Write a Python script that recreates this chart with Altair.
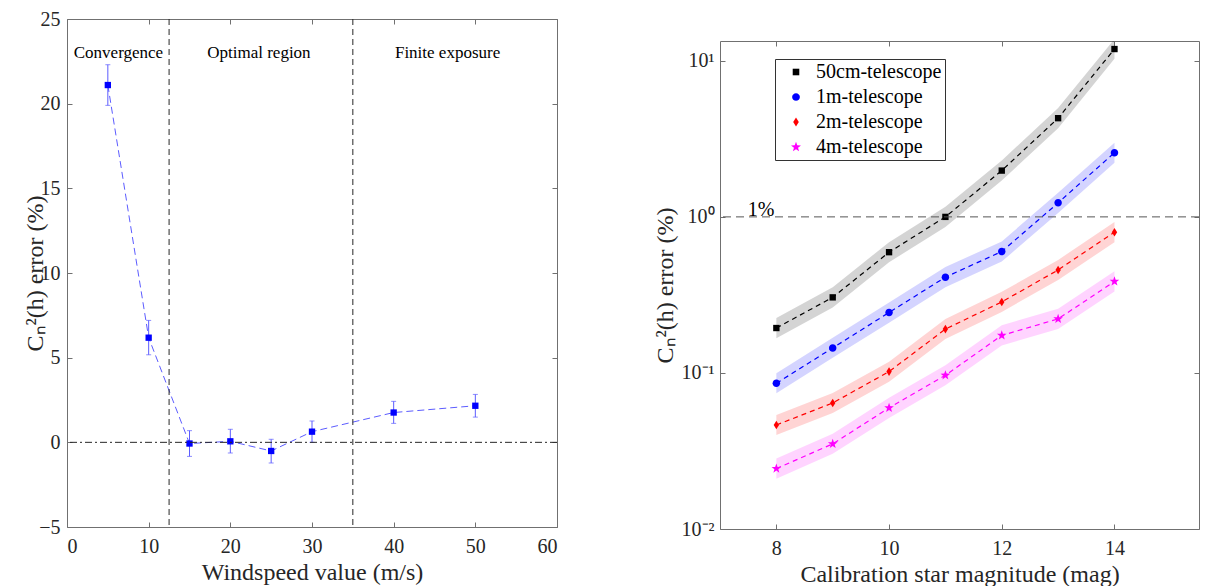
import math
import altair as alt
import pandas as pd

# ---------------- left panel data ----------------
wind_speed = [5, 10, 15, 20, 25, 30, 40, 50]
wind_error = [21.1, 6.18, -0.07, 0.06, -0.51, 0.63, 1.76, 2.16]
wind_error_lo = [19.9, 5.17, -0.83, -0.63, -1.22, 0.0, 1.12, 1.49]
wind_error_hi = [22.3, 7.2, 0.69, 0.77, 0.18, 1.26, 2.42, 2.83]
region_edges = [12.5, 35]
region_labels = ["Convergence", "Optimal region", "Finite exposure"]
region_label_x = [6.3, 23.5, 46.6]
region_label_y = [23.0, 23.0, 23.0]
zero_level = [0]
left_xticks = [0, 10, 20, 30, 40, 50, 60]
left_yticks = [-5, 0, 5, 10, 15, 20, 25]

# ---------------- right panel data ----------------
magnitudes = [8, 9, 10, 11, 12, 13, 14]
telescopes = ["50cm-telescope", "1m-telescope", "2m-telescope", "4m-telescope"]
telescope_colors = ["#000000", "#0000ff", "#ff0000", "#ff00ff"]
err_50cm = [0.194, 0.305, 0.594, 1.0, 1.98, 4.29, 11.9]
err_50cm_lo = [0.167, 0.263, 0.512, 0.862, 1.71, 3.70, 10.3]
err_50cm_hi = [0.225, 0.354, 0.689, 1.16, 2.30, 4.98, 13.8]
err_1m = [0.0858, 0.1446, 0.244, 0.411, 0.600, 1.23, 2.58]
err_1m_lo = [0.0740, 0.125, 0.210, 0.354, 0.517, 1.06, 2.22]
err_1m_hi = [0.0995, 0.168, 0.283, 0.477, 0.696, 1.43, 2.99]
err_2m = [0.0464, 0.0642, 0.102, 0.191, 0.285, 0.457, 0.798]
err_2m_lo = [0.0400, 0.0553, 0.0879, 0.165, 0.246, 0.394, 0.688]
err_2m_hi = [0.0538, 0.0745, 0.118, 0.222, 0.331, 0.530, 0.926]
err_4m = [0.0244, 0.0351, 0.0597, 0.0966, 0.174, 0.222, 0.386]
err_4m_lo = [0.0210, 0.0303, 0.0515, 0.0833, 0.150, 0.191, 0.333]
err_4m_hi = [0.0283, 0.0407, 0.0693, 0.112, 0.202, 0.258, 0.448]
one_pct_level = [1.0]
one_pct_text = ["1%"]
one_pct_x = [7.73]
right_xticks = [8, 10, 12, 14]
right_y_range = [0.01, 13.4]
right_ytick_exponents = [-2, -1, 0, 1]
right_ytick_labels = ["10\u207b\u00b2", "10\u207b\u00b9", "10\u2070", "10\u00b9"]

# ---------------- styling ----------------
FONT = "Liberation Serif"
TXT = "#262626"
FRAME = "#707070"
BLUE_LINE = "#5c5cff"


def star_path(R, r):
    pts = []
    for i in range(10):
        a = -math.pi / 2 + i * math.pi / 5
        rad = R if i % 2 == 0 else r
        pts.append(f"{rad * math.cos(a):.3f},{rad * math.sin(a):.3f}")
    return "M" + "L".join(pts) + "Z"


marker_paths = [
    "M-0.85,-0.85H0.85V0.85H-0.85Z",
    "M-1,0A1,1 0 1,0 1,0A1,1 0 1,0 -1,0Z",
    "M0,-1.15L0.72,0L0,1.15L-0.72,0Z",
    star_path(1.35, 0.55),
]

AXIS_STYLE = dict(labelFont=FONT, labelFontSize=20, labelColor=TXT, titleFont=FONT,
                  titleFontSize=24, titleFontWeight="normal", titleColor=TXT,
                  tickColor=FRAME, tickWidth=1, offset=-5, tickSize=5, domain=False, grid=False)


def axis(orient, values, title=None, labels=True, **kw):
    return alt.Axis(orient=orient, values=values, labels=labels, title=title, **AXIS_STYLE, **kw)


# ---------------- left panel ----------------
df_w = pd.DataFrame({"speed": wind_speed, "err": wind_error,
                     "lo": wind_error_lo, "hi": wind_error_hi})
df_edges = pd.DataFrame({"edge": region_edges})
df_zero = pd.DataFrame({"zero": zero_level})
df_regions = pd.DataFrame({"x": region_label_x, "y": region_label_y,
                           "label": region_labels})

lx = alt.Scale(domain=[0, 60], nice=False)
ly = alt.Scale(domain=[-5, 25], nice=False)

l_line = alt.Chart(df_w).mark_line(color=BLUE_LINE, strokeDash=[7, 4], strokeWidth=1).encode(
    x=alt.X("speed:Q", scale=lx,
            axis=axis("bottom", left_xticks, "Windspeed value (m/s)", labelPadding=9, titlePadding=4)),
    y=alt.Y("err:Q", scale=ly,
            axis=axis("left", left_yticks, "C\u2099\u00b2(h) error (%)", labelPadding=7, titlePadding=-9)),
)
l_err = alt.Chart(df_w).mark_rule(color=BLUE_LINE, strokeWidth=1).encode(
    x=alt.X("speed:Q", scale=lx, axis=None),
    y=alt.Y("lo:Q", scale=ly, axis=None),
    y2="hi:Q",
)
l_cap_lo = alt.Chart(df_w).mark_tick(color=BLUE_LINE, orient="horizontal", size=5, thickness=1).encode(
    x=alt.X("speed:Q", scale=lx, axis=None),
    y=alt.Y("lo:Q", scale=ly, axis=None),
)
l_cap_hi = alt.Chart(df_w).mark_tick(color=BLUE_LINE, orient="horizontal", size=5, thickness=1).encode(
    x=alt.X("speed:Q", scale=lx, axis=None),
    y=alt.Y("hi:Q", scale=ly, axis=None),
)
l_pts = alt.Chart(df_w).mark_square(color="#0000ff", size=40, opacity=1).encode(
    x=alt.X("speed:Q", scale=lx, axis=None),
    y=alt.Y("err:Q", scale=ly, axis=None),
)
l_vrules = alt.Chart(df_edges).mark_rule(color=TXT, strokeDash=[6, 4], strokeWidth=1).encode(
    x=alt.X("edge:Q", scale=lx, axis=axis("top", left_xticks, labels=False)),
)
l_zero = alt.Chart(df_zero).mark_rule(color=TXT, strokeDash=[7, 3, 2, 3], strokeWidth=1).encode(
    y=alt.Y("zero:Q", scale=ly, axis=axis("right", left_yticks, labels=False)),
)
l_text = alt.Chart(df_regions).mark_text(font=FONT, fontSize=17, color="black",
                                         align="center", baseline="middle").encode(
    x=alt.X("x:Q", scale=lx, axis=None),
    y=alt.Y("y:Q", scale=ly, axis=None),
    text="label:N",
)

left = alt.layer(l_line, l_err, l_cap_lo, l_cap_hi, l_pts, l_vrules, l_zero, l_text).properties(
    width=490, height=508)

# ---------------- right panel (log10 values on a linear scale) ----------------
rows = []
for name, v, lo, hi in zip(
    telescopes,
    [err_50cm, err_1m, err_2m, err_4m],
    [err_50cm_lo, err_1m_lo, err_2m_lo, err_4m_lo],
    [err_50cm_hi, err_1m_hi, err_2m_hi, err_4m_hi],
):
    for m, a, b, c in zip(magnitudes, v, lo, hi):
        rows.append({"mag": m, "series": name, "err": a, "lo": b, "hi": c})
df_t = pd.DataFrame(rows)
df_pct = pd.DataFrame({"level": one_pct_level, "x": one_pct_x, "label": one_pct_text})

rx = alt.Scale(domain=[7, 15.5], nice=False)
ry = alt.Scale(domain=[math.log10(right_y_range[0]), math.log10(right_y_range[1])], nice=False)
cscale = alt.Scale(domain=telescopes, range=telescope_colors)
sscale = alt.Scale(domain=telescopes, range=marker_paths)

label_expr = ""
for e, lab in zip(right_ytick_exponents, right_ytick_labels):
    label_expr += f"datum.value == {e} ? '{lab}' : "
label_expr += "''"

leg = alt.Legend(orient="none", legendX=708, legendY=40, padding=3, strokeColor="#333333",
                 fillColor="white", title=None, labelFont=FONT, labelFontSize=20,
                 labelColor="black", symbolSize=60, symbolOffset=8, labelOffset=10,
                 rowPadding=5, labelLimit=400, symbolStrokeWidth=0, symbolOpacity=1)

base_t = alt.Chart(df_t).transform_calculate(
    lerr="log(datum.err) / LN10",
    llo="log(datum.lo) / LN10",
    lhi="log(datum.hi) / LN10",
)

r_band = base_t.mark_area(opacity=0.17, clip=True).encode(
    x=alt.X("mag:Q", scale=rx, axis=None),
    y=alt.Y("llo:Q", scale=ry, axis=None),
    y2="lhi:Q",
    color=alt.Color("series:N", scale=cscale, legend=leg),
)
r_line = base_t.mark_line(strokeDash=[5, 4], strokeWidth=1.2).encode(
    x=alt.X("mag:Q", scale=rx,
            axis=axis("bottom", right_xticks, "Calibration star magnitude (mag)", labelPadding=9, titlePadding=4)),
    y=alt.Y("lerr:Q", scale=ry,
            axis=axis("left", right_ytick_exponents, "C\u2099\u00b2(h) error (%)",
                      labelExpr=label_expr, labelPadding=6, titlePadding=4)),
    color=alt.Color("series:N", scale=cscale, legend=leg),
)
r_pts = base_t.mark_point(filled=True, size=56, opacity=1).encode(
    x=alt.X("mag:Q", scale=rx, axis=None),
    y=alt.Y("lerr:Q", scale=ry, axis=None),
    color=alt.Color("series:N", scale=cscale, legend=leg),
    shape=alt.Shape("series:N", scale=sscale, legend=leg),
)
base_pct = alt.Chart(df_pct).transform_calculate(llevel="log(datum.level) / LN10")
r_pct_rule = base_pct.mark_rule(color="#555555", strokeDash=[8, 5], strokeWidth=1).encode(
    y=alt.Y("llevel:Q", scale=ry, axis=axis("right", right_ytick_exponents, labels=False)),
)
r_pct_text = base_pct.mark_text(font=FONT, fontSize=20, color="black", align="center",
                                baseline="alphabetic", dy=-1).encode(
    x=alt.X("x:Q", scale=rx, axis=axis("top", right_xticks, labels=False)),
    y=alt.Y("llevel:Q", scale=ry, axis=None),
    text="label:N",
)

right = alt.layer(r_band, r_line, r_pts, r_pct_rule, r_pct_text).properties(
    width=479, height=488)

# invisible spacer that pushes the right panel down
spacer = alt.Chart(pd.DataFrame({"s": [0]})).mark_point(opacity=0).properties(
    width=479, height=1, view=alt.ViewBackground(stroke="transparent"))
right_col = alt.vconcat(spacer, right, spacing=17)

chart = (
    alt.hconcat(left, right_col, spacing=94)
    .properties(padding={"left": 15, "top": 0, "right": 0, "bottom": 0})
    .configure_view(stroke=FRAME, strokeWidth=1)
)

chart.save("out.html", embed_options={"renderer": "svg", "actions": False})
